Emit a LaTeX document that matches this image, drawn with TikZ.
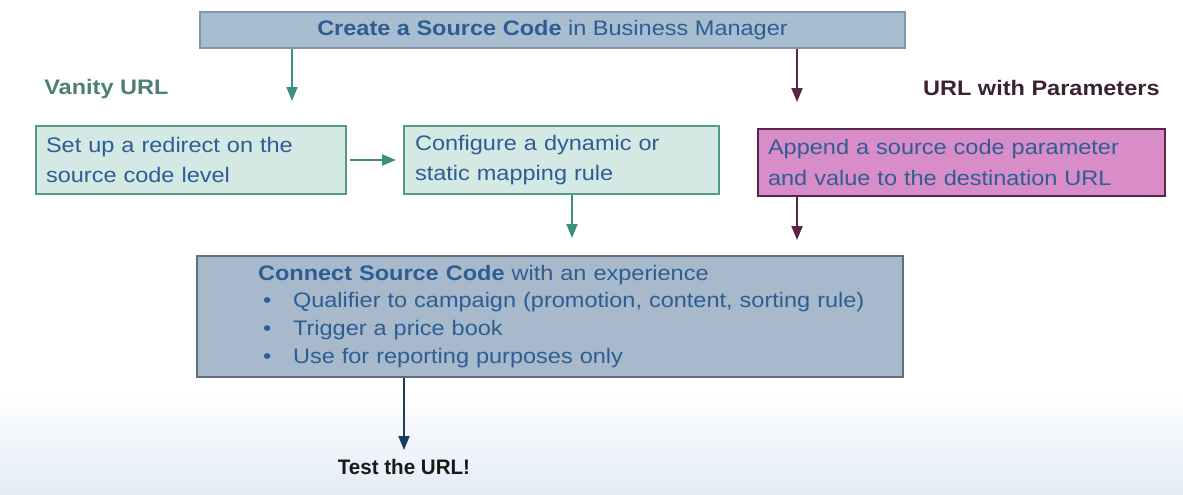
\documentclass[tikz,border=0pt]{standalone}
\usepackage{fontspec}
\setmainfont[FakeStretch=1.12]{Liberation Sans}
\newfontfamily\testfont[FakeStretch=0.98]{Liberation Sans}
\usetikzlibrary{positioning,arrows.meta}

\definecolor{topfill}{HTML}{A9BDD0}
\definecolor{topline}{HTML}{8197AB}
\definecolor{bigfill}{HTML}{A7B9CB}
\definecolor{bigline}{HTML}{5D7083}
\definecolor{textblue}{HTML}{2D5E93}
\definecolor{tealfill}{HTML}{D4E8E4}
\definecolor{tealline}{HTML}{4F9C8A}
\definecolor{tealarrow}{HTML}{3D8F7D}
\definecolor{vanitytext}{HTML}{4D7F74}
\definecolor{pinkfill}{HTML}{D88CC8}
\definecolor{pinkline}{HTML}{5B2749}
\definecolor{maroon}{HTML}{582640}
\definecolor{paramtext}{HTML}{3A2232}
\definecolor{navyarrow}{HTML}{1D3B5C}
\definecolor{bgblue}{HTML}{E3ECF6}

\begin{document}
\begin{tikzpicture}[x=0.02cm, y=-0.02cm,
        every node/.style={font=\fontsize{11.95}{17.1}\selectfont},
        box/.style={draw, line width=0.04cm, align=left, inner ysep=0pt},
        lbl/.style={inner sep=0pt, font=\fontsize{11.95}{17.1}\selectfont\bfseries},
        arr/.style={line width=0.04cm, -{Triangle[length=0.28cm,width=0.22cm]}}]
    \useasboundingbox ( 0, 0 ) rectangle ( 1183, 494 );
    % фон
    \shade [top color=white, bottom color=bgblue] ( 0, 390 ) rectangle ( 1183, 494 );

    % верхний блок
    \node [box, fill=topfill, draw=topline, text=textblue, align=center,
        minimum width=14.1cm, minimum height=0.72cm] (src) at ( 552.5, 30 )
        {\textbf{Create a Source Code} in Business Manager};
    \node [lbl, anchor=base west, text=vanitytext] (vanity) at ( 44, 94 ) {Vanity URL};
    \node [lbl, anchor=base east, text=paramtext] (params) at ( 1160, 95 ) {URL with Parameters};

    % средний ряд
    \node [box, fill=tealfill, draw=tealline, text=textblue, text width=5.8cm,
        inner xsep=0.2cm, minimum height=1.36cm] (redirect) at ( 191, 160 )
        {Set up a redirect on the\\source code level};
    \node [box, fill=tealfill, draw=tealline, text=textblue, text width=5.86cm,
        inner xsep=0.22cm, minimum height=1.36cm] (mapping) at ( 561.5, 160 )
        {Configure a dynamic or\\static mapping rule};
    \node [box, fill=pinkfill, draw=pinkline, text=textblue, text width=7.74cm,
        inner xsep=0.2cm, minimum height=1.34cm] (append) at ( 961.5, 162.5 )
        {Append a source code parameter\\and value to the destination URL};

    % нижний блок
    \node [box, fill=bigfill, draw=bigline, text=textblue, text width=11.68cm,
        inner xsep=1.22cm, minimum height=2.42cm,
        font=\fontsize{11.95}{15.9}\selectfont] (connect) at ( 550, 316.5 )
        {\textbf{Connect Source Code} with an experience\\
        \makebox[\linewidth][l]{\hspace*{0.1cm}\makebox[0.6cm][l]{\textbullet}Qualifier to campaign (promotion, content, sorting rule)}\\
        \hspace*{0.1cm}\makebox[0.6cm][l]{\textbullet}Trigger a price book\\
        \hspace*{0.1cm}\makebox[0.6cm][l]{\textbullet}Use for reporting purposes only};
    \node [lbl, anchor=base, text=black!90, font=\fontsize{11.95}{17.1}\testfont\bfseries]
        (test) at ( 404, 474 ) {Test the URL!};

    % стрелки
    \coordinate (vanityend) at ( 292, 101 );
    \coordinate (paramsend) at ( 797, 102 );
    \coordinate (mapend) at ( 572, 238 );
    \coordinate (appendend) at ( 797, 240 );
    \coordinate (testend) at ( 404, 450 );
    \draw [arr, tealarrow] (src.south -| vanityend) -- (vanityend);
    \draw [arr, maroon] (src.south -| paramsend) -- (paramsend);
    \draw [arr, tealarrow, shorten <=0.06cm, shorten >=0.14cm] (redirect) -- (mapping);
    \draw [arr, tealarrow] (mapping.south -| mapend) -- (mapend);
    \draw [arr, maroon] (append.south -| appendend) -- (appendend);
    \draw [arr, navyarrow] (connect.south -| testend) -- (testend);
\end{tikzpicture}
\end{document}
